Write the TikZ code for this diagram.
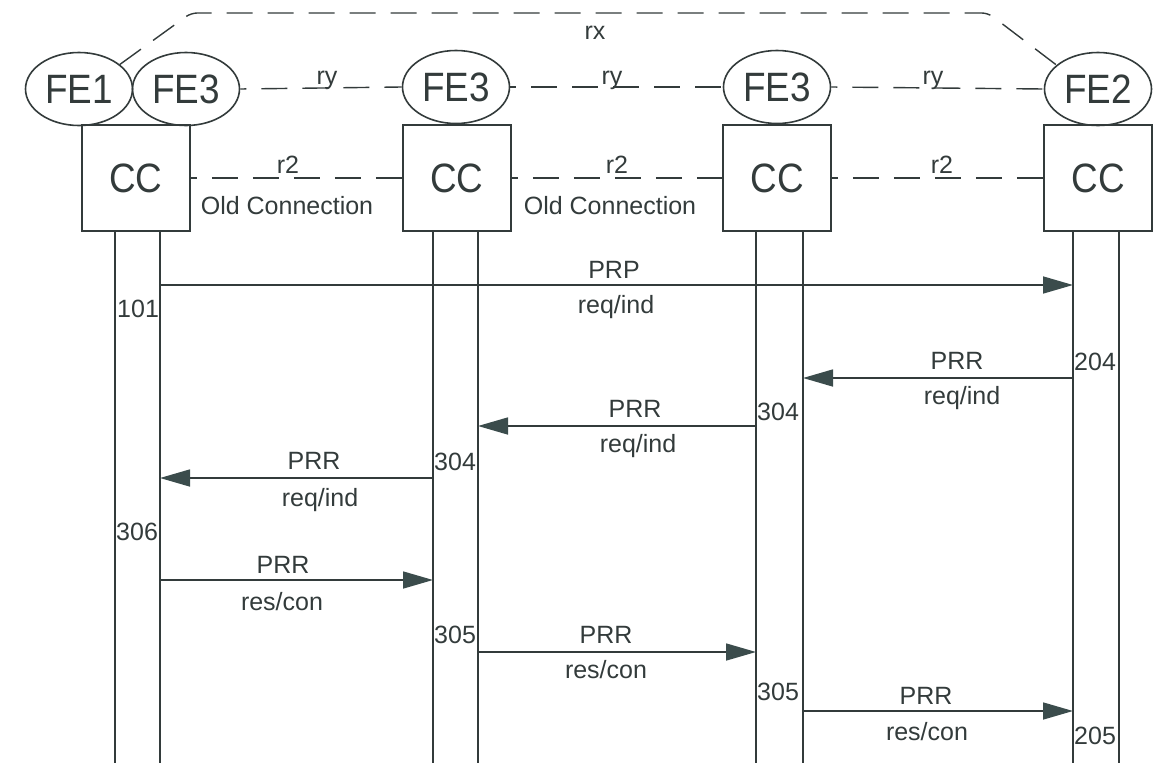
\documentclass[tikz,border=0pt]{standalone}
\usepackage{fontspec}
\setmainfont{Liberation Sans}
\newfontfamily\bigf[FakeStretch=0.9]{Liberation Sans}
\usetikzlibrary{arrows.meta,shapes.geometric}
\definecolor{ink}{HTML}{333B3B}
\definecolor{headc}{HTML}{3B4C4C}
\begin{document}
\begin{tikzpicture}[x=1pt,y=-1pt,
  fe/.style={ellipse,draw=ink,line width=1.6pt,minimum width=107pt,minimum height=73pt,inner sep=0pt,font=\bigf\fontsize{41}{46}\selectfont,text=ink},
  ccbox/.style={rectangle,draw=ink,line width=1.6pt,minimum width=108pt,minimum height=106pt,inner sep=0pt,font=\bigf\fontsize{41}{46}\selectfont,text=ink},
  life/.style={draw=ink,line width=1.6pt},
  dsh/.style={draw=ink,line width=1.4pt,dash pattern=on 26pt off 15pt},
  msg/.style={draw=ink,line width=1.6pt,-{Triangle[length=30pt,width=17pt,fill=headc,color=headc]}},
  lab/.style={font=\fontsize{25}{28}\selectfont,text=ink,inner sep=0pt,anchor=base},
  num/.style={lab,anchor=base west}]
\useasboundingbox (0,0) rectangle (1160,763);

% CC boxes
\node[ccbox] (cc1) at (136,178) {\raisebox{-4pt}{CC}};
\node[ccbox] (cc2) at (457,178) {\raisebox{-4pt}{CC}};
\node[ccbox] (cc3) at (777,178) {\raisebox{-1pt}{CC}};
\node[ccbox] (cc4) at (1098,178) {\raisebox{-6pt}{CC}};

% FE ellipses
\node[fe] (fe1) at (79,89) {FE1};
\node[fe] (fe3a) at (186,89) {FE3};
\node[fe] (fe3b) at (456,87) {FE3};
\node[fe] (fe3c) at (777,87) {FE3};
\node[fe] (fe2) at (1098,89) {FE2};

% rx relation
\coordinate (rxa) at (191,13);
\coordinate (rxb) at (988,13);
\draw[dsh,rounded corners=6pt] (fe1.31) -- (rxa) -- (rxb) -- (fe2.150);
\node[lab] (rx) at (595,39) {rx};

% ry relations
\draw[dsh,dash phase=20pt] (fe3a.east) -- (fe3b.west);
\draw[dsh,dash phase=20pt] (fe3b.east) -- (fe3c.west);
\draw[dsh,dash phase=20pt] (fe3c.east) -- (fe2.west);
\node[lab] (ry1) at (327,84) {ry};
\node[lab] (ry2) at (612,84) {ry};
\node[lab] (ry3) at (933,84) {ry};

% r2 relations
\draw[dsh,dash phase=20pt] (cc1.east) -- (cc2.west);
\draw[dsh,dash phase=20pt] (cc2.east) -- (cc3.west);
\draw[dsh,dash phase=20pt] (cc3.east) -- (cc4.west);
\node[lab] (r2a) at (288,173) {r2};
\node[lab] (r2b) at (617,173) {r2};
\node[lab] (r2c) at (942,173) {r2};
\node[lab] (oc1) at (287,214) {Old Connection};
\node[lab] (oc2) at (610,214) {Old Connection};

% lifelines
\coordinate (l1a) at (115,231); \coordinate (l1b) at (160,231);
\coordinate (l2a) at (433,231); \coordinate (l2b) at (478,231);
\coordinate (l3a) at (756,231); \coordinate (l3b) at (803,231);
\coordinate (l4a) at (1073,231); \coordinate (l4b) at (1119,231);
\foreach \c in {l1a,l1b,l2a,l2b,l3a,l3b,l4a,l4b}
  \draw[life] (\c) -- (\c |- 0,763);

% messages
\draw[msg] (l1b |- 0,285) -- (l4a |- 0,285);
\node[lab] (m1t) at (614,278) {PRP};
\node[lab] (m1b) at (616,313) {req/ind};
\node[num] (n101) at (117,317) {101};

\draw[msg] (l4a |- 0,378) -- (l3b |- 0,378);
\node[lab] (m2t) at (957,369) {PRR};
\node[lab] (m2b) at (962,404) {req/ind};
\node[num] (n204) at (1074,370) {204};

\draw[msg] (l3a |- 0,426) -- (l2b |- 0,426);
\node[lab] (m3t) at (635,417) {PRR};
\node[lab] (m3b) at (638,452) {req/ind};
\node[num] (n304a) at (757,420) {304};

\draw[msg] (l2a |- 0,478) -- (l1b |- 0,478);
\node[lab] (m4t) at (314,469) {PRR};
\node[lab] (m4b) at (320,506) {req/ind};
\node[num] (n304b) at (434,470) {304};

\node[num] (n306) at (116,540) {306};
\draw[msg] (l1b |- 0,580) -- (l2a |- 0,580);
\node[lab] (m5t) at (283,573) {PRR};
\node[lab] (m5b) at (282,610) {res/con};

\node[num] (n305a) at (434,643) {305};
\draw[msg] (l2b |- 0,652) -- (l3a |- 0,652);
\node[lab] (m6t) at (606,643) {PRR};
\node[lab] (m6b) at (606,678) {res/con};

\node[num] (n305b) at (757,700) {305};
\draw[msg] (l3b |- 0,711) -- (l4a |- 0,711);
\node[lab] (m7t) at (926,704) {PRR};
\node[lab] (m7b) at (927,740) {res/con};
\node[num] (n205) at (1074,744) {205};
\end{tikzpicture}
\end{document}
